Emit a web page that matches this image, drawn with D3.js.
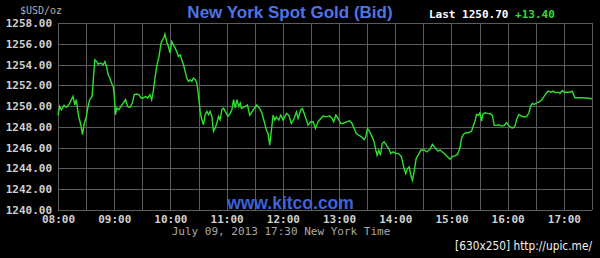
<!DOCTYPE html>
<html>
<head>
<meta charset="utf-8">
<script src="https://cdn.jsdelivr.net/npm/d3@7"></script>
<style>
  html, body { margin: 0; padding: 0; background: #000; }
  svg { display: block; }
</style>
</head>
<body>
<div id="chart"></div>
<script>
// Minutes after 08:00 and the bid price read at that time
var minutes = [0,1.8,3.6,6.4,8.9,11.4,14.3,16.1,17.9,19.6,20.7,22.1,24.3,26.1,27.8,30.3,32.1,33.9,36.4,37.8,
  39.3,41.1,42.8,45.7,48.2,50.0,51.8,53.6,55.3,57.1,58.9,60.0,61.4,62.8,65.0,67.1,69.6,72.1,74.3,76.8,
  79.3,81.4,83.9,86.4,88.5,91.0,93.5,95.7,98.2,100.0,101.7,103.5,105.3,107.8,110.0,111.4,112.8,114.2,116.0,117.8,
  119.6,121.4,123.2,125.0,126.7,128.5,130.3,132.1,133.9,135.7,137.4,139.2,141.0,142.8,144.6,146.4,148.2,149.9,151.7,153.5,
  155.3,157.1,158.9,160.7,162.4,164.2,166.0,167.8,169.6,171.4,173.1,174.9,176.7,178.5,181.4,183.9,185.6,187.4,189.2,191.0,
  192.8,194.6,195.8,202.2,204.7,208.2,211.8,215.3,217.8,220.7,222.5,224.2,226.0,227.8,229.6,231.4,233.1,235.6,237.8,240.3,
  243.8,246.3,249.1,252.0,254.5,256.3,259.1,260.9,263.4,265.2,266.9,269.8,272.3,274.8,277.6,280.5,283.0,286.5,290.1,292.6,
  294.3,296.5,299.0,301.8,304.3,307.9,311.4,313.9,316.1,318.5,321.0,323.9,326.7,328.5,330.3,332.8,335.3,337.4,339.2,340.6,
  342.4,344.2,346.0,348.1,350.6,353.1,355.2,357.7,361.3,363.7,366.6,369.4,371.2,373.0,374.8,376.6,378.3,380.1,382.3,384.6,
  387.5,391.1,393.6,397.1,399.6,402.4,405.3,407.8,410.3,412.1,416.0,418.4,420.9,423.8,426.6,429.1,430.9,432.7,435.1,438.0,
  441.5,443.3,445.1,446.9,448.7,450.4,452.2,453.3,455.8,458.6,461.1,463.6,465.7,468.2,470.7,473.5,476.4,478.9,481.4,484.2,
  486.0,487.8,489.5,492.0,494.9,497.7,500.2,502.7,504.5,506.3,508.4,510.9,513.4,516.2,519.0,521.5,523.3,526.2,528.6,531.1,
  534.0,535.8,538.3,540.4,542.9,546.4,548.9,551.8,555.3,560.6,566.0,570.0];
var prices = [1249.11,1249.97,1249.65,1250.07,1249.88,1250.13,1250.62,1250.94,1250.13,1250.62,1249.81,1249.01,1248.21,1247.25,1248.21,1249.01,1249.97,1250.62,1250.94,1252.70,
  1254.46,1254.30,1254.04,1254.14,1253.98,1254.30,1253.82,1253.02,1252.70,1252.22,1251.90,1251.10,1249.17,1249.81,1249.65,1249.97,1250.29,1250.62,1249.97,1249.88,
  1250.29,1251.10,1251.16,1251.10,1250.78,1250.78,1250.94,1250.78,1251.10,1250.62,1251.42,1252.70,1253.82,1254.78,1256.06,1256.38,1256.54,1256.93,1256.22,1255.74,
  1255.10,1256.22,1255.90,1255.58,1255.26,1254.78,1254.94,1254.46,1253.98,1253.34,1252.70,1252.38,1252.54,1252.38,1252.70,1252.54,1252.22,1251.10,1249.49,1248.69,
  1248.21,1249.17,1249.49,1249.17,1249.49,1249.01,1247.57,1247.89,1248.37,1249.01,1248.69,1249.65,1249.81,1249.49,1249.01,1249.33,1249.65,1250.62,1249.81,1250.62,
  1249.97,1250.29,1249.77,1250.10,1249.13,1249.61,1250.10,1249.77,1249.29,1248.33,1247.68,1247.36,1246.24,1247.68,1249.13,1248.65,1248.97,1248.65,1249.13,1248.65,
  1249.29,1249.13,1248.33,1248.81,1249.45,1248.81,1249.61,1249.77,1249.13,1248.65,1248.17,1248.49,1248.49,1247.85,1248.49,1248.81,1249.04,1248.97,1249.04,1248.81,
  1248.49,1249.13,1248.81,1248.33,1248.33,1248.49,1248.59,1248.33,1247.85,1247.36,1247.20,1247.04,1246.78,1247.04,1247.85,1247.52,1247.04,1246.56,1245.76,1245.27,
  1245.76,1245.27,1246.40,1246.56,1246.24,1245.92,1245.43,1245.59,1245.43,1245.43,1245.11,1243.99,1243.50,1243.99,1244.15,1243.34,1242.86,1243.67,1244.95,1245.30,
  1245.78,1245.78,1245.59,1245.85,1246.33,1246.01,1245.69,1245.78,1245.59,1245.46,1245.11,1244.89,1245.14,1245.21,1245.37,1246.01,1246.96,1247.28,1247.44,1247.44,
  1247.60,1248.08,1248.56,1249.20,1249.11,1249.36,1248.56,1249.20,1249.36,1249.30,1249.27,1249.11,1248.15,1248.15,1248.21,1248.08,1248.15,1248.40,1248.08,1247.92,
  1247.92,1248.08,1248.72,1249.20,1249.04,1248.95,1248.98,1249.36,1250.00,1250.26,1250.16,1250.32,1250.38,1250.58,1250.96,1251.28,1251.44,1251.34,1251.44,1251.28,
  1251.34,1251.21,1251.50,1251.34,1251.34,1251.34,1251.44,1250.80,1250.80,1250.80,1250.75,1250.70];

// Axis ticks
var hourLabels = ["08:00","09:00","10:00","11:00","12:00","13:00","14:00","15:00","16:00","17:00"];
var priceTicks = [1240,1242,1244,1246,1248,1250,1252,1254,1256,1258];
var lastPrice = "1250.70", change = "+13.40";

var w = 600, h = 258;
var margin = {top: 23, right: 8, bottom: 48, left: 58};
var width = w - margin.left - margin.right;
var height = h - margin.top - margin.bottom;

var svg = d3.select("#chart").append("svg")
  .attr("width", w)
  .attr("height", h)
  .style("background", "#000");

var chart = svg.append("g")
  .attr("transform", "translate(" + margin.left + "," + margin.top + ")");

var xScale = d3.scaleLinear().domain([0, 570]).range([0, width]);
var yScale = d3.scaleLinear().domain([1240, 1258]).range([height, 0]);

var mono = "'DejaVu Sans Mono', 'Liberation Mono', monospace";

// Grid lines (every half hour, every $2)
chart.append("g").selectAll("line").data(d3.range(0, 571, 30)).enter().append("line")
  .attr("x1", function(d) { return Math.round(xScale(d)) + 0.5; })
  .attr("x2", function(d) { return Math.round(xScale(d)) + 0.5; })
  .attr("y1", 0).attr("y2", height)
  .attr("stroke", "#5c5c5c");
chart.append("g").selectAll("line").data(priceTicks).enter().append("line")
  .attr("y1", function(d) { return Math.round(yScale(d)) + 0.5; })
  .attr("y2", function(d) { return Math.round(yScale(d)) + 0.5; })
  .attr("x1", 0).attr("x2", width)
  .attr("stroke", "#5c5c5c");

// Y axis labels
var yAxis = d3.axisLeft(yScale).tickValues(priceTicks).tickFormat(d3.format(".2f")).tickSize(0).tickPadding(6);
chart.append("g").call(yAxis)
  .call(function(g) { g.select(".domain").remove(); })
  .selectAll("text")
  .attr("fill", "#d0d0d0")
  .attr("font-family", mono)
  .attr("font-size", "11px")
  .attr("font-weight", 700);

// X axis labels
var xAxis = d3.axisBottom(xScale).tickValues(d3.range(0, 541, 60))
  .tickFormat(function(d, i) { return hourLabels[i]; }).tickSize(0).tickPadding(5);
chart.append("g")
  .attr("transform", "translate(0," + height + ")")
  .call(xAxis)
  .call(function(g) { g.select(".domain").remove(); })
  .selectAll("text")
  .attr("fill", "#d0d0d0")
  .attr("font-family", mono)
  .attr("font-size", "11px")
  .attr("font-weight", 700);

// Price line
var points = minutes.map(function(m, i) { return [m, prices[i]]; });
var line = d3.line()
  .x(function(d) { return xScale(d[0]); })
  .y(function(d) { return yScale(d[1]); });
chart.append("path")
  .datum(points)
  .attr("d", line)
  .attr("fill", "none")
  .attr("stroke", "#2ee02e")
  .attr("stroke-width", 1.4);

// Texts
svg.append("text")
  .attr("x", 290).attr("y", 17.5)
  .attr("text-anchor", "middle")
  .attr("font-family", "'Liberation Sans', Arial, sans-serif")
  .attr("font-size", "17px")
  .attr("font-weight", 700)
  .attr("fill", "#4f74e3")
  .text("New York Spot Gold (Bid)");

svg.append("text")
  .attr("x", 20).attr("y", 14)
  .attr("font-family", mono)
  .attr("font-size", "10px")
  .attr("fill", "#b0b0b0")
  .text("$USD/oz");

var last = svg.append("text")
  .attr("x", 429).attr("y", 18)
  .attr("font-family", mono)
  .attr("font-size", "11px")
  .attr("font-weight", 700)
  .attr("fill", "#ffffff")
  .attr("xml:space", "preserve");
last.append("tspan").text("Last " + lastPrice + " ");
last.append("tspan").attr("fill", "#33dd33").text(change);

svg.append("text")
  .attr("x", 290.5).attr("y", 208.5)
  .attr("text-anchor", "middle")
  .attr("font-family", "'Liberation Sans', Arial, sans-serif")
  .attr("font-size", "17.5px")
  .attr("font-weight", 700)
  .attr("fill", "#3d62db")
  .text("www.kitco.com");

svg.append("text")
  .attr("x", 281).attr("y", 235)
  .attr("text-anchor", "middle")
  .attr("font-family", mono)
  .attr("font-size", "11px")
  .attr("fill", "#a8a8a8")
  .text("July 09, 2013 17:30 New York Time");

svg.append("text")
  .attr("x", 455).attr("y", 250)
  .attr("font-family", "'DejaVu Sans', sans-serif")
  .attr("font-size", "11.5px")
  .attr("fill", "#f0f0f0")
  .attr("textLength", 137)
  .attr("lengthAdjust", "spacingAndGlyphs")
  .text("[630x250] http://upic.me/");
</script>
</body>
</html>
